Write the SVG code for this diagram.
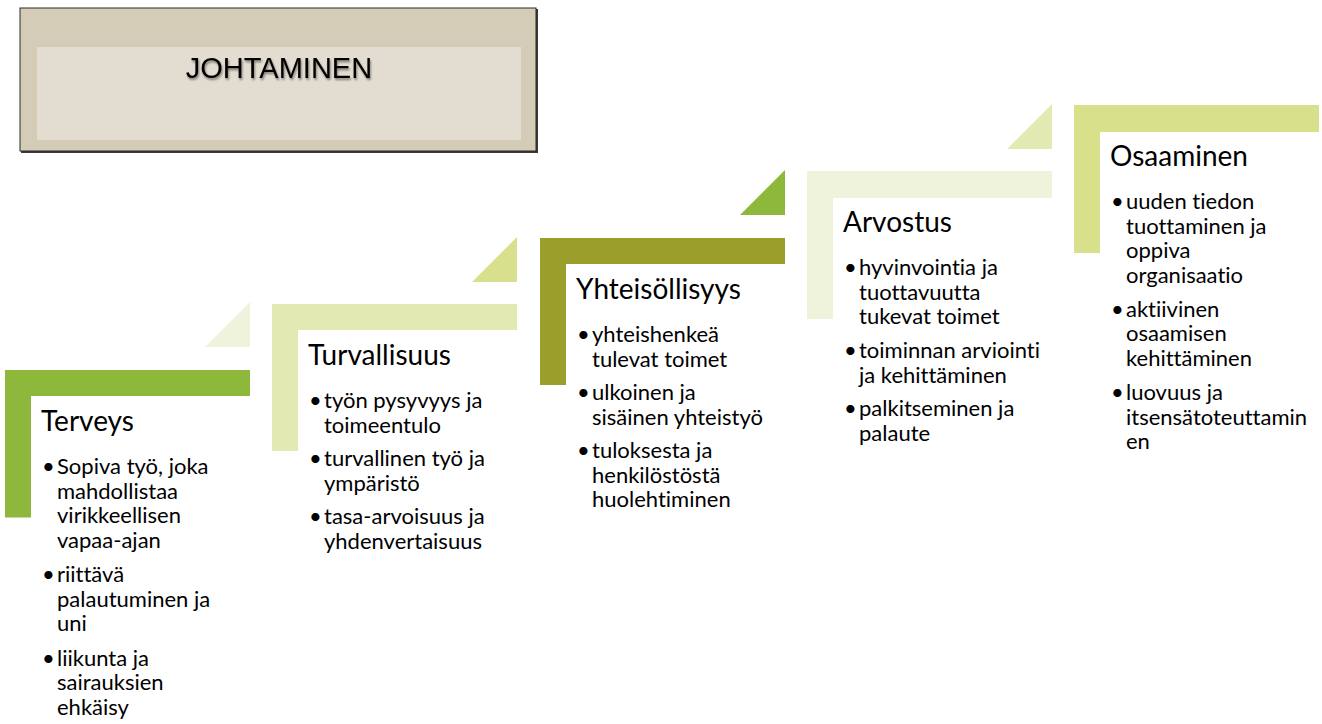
<svg xmlns="http://www.w3.org/2000/svg" width="1322" height="724" viewBox="0 0 1322 724">
<defs>
<style>
.t{font-family:Lato,"Noto Sans",sans-serif;fill:#000;font-variant-ligatures:none;font-feature-settings:"liga" 0,"clig" 0;}
.h{font-size:28px;}
.b{font-size:22px;}
.jt{font-family:"Liberation Sans",Arial,sans-serif;font-size:29px;fill:#000;}
</style>
<filter id="ts" x="-10%" y="-30%" width="120%" height="160%">
<feGaussianBlur in="SourceAlpha" stdDeviation="1.2"/>
<feOffset dx="1" dy="1.5" result="o"/>
<feComponentTransfer><feFuncA type="linear" slope="0.45"/></feComponentTransfer>
<feMerge><feMergeNode/><feMergeNode in="SourceGraphic"/></feMerge>
</filter>
</defs>
<rect width="1322" height="724" fill="#fff"/>

<g id="johtaminen">
<rect x="21" y="9" width="517" height="144" fill="#3a3a3a"/>
<rect x="20" y="8" width="516" height="143" fill="#D4CCB6" stroke="#2b2b2b" stroke-width="1"/>
<rect x="37" y="47" width="484" height="93" fill="#E3DDD1"/>
<text class="jt" x="279" y="78" text-anchor="middle" filter="url(#ts)">JOHTAMINEN</text>
</g>

<g id="terveys">
<path d="M5 370h245v26h-219v121.5h-26z" fill="#8DB83B"/>
<path d="M205 347L250 302V347z" fill="#F0F3DC"/>
<text class="t h" x="41" y="431">Terveys</text>
<g class="t b">
<text x="42" y="474">•</text>
<text x="57" y="474">Sopiva työ, joka</text>
<text x="57" y="498.5">mahdollistaa</text>
<text x="57" y="523">virikkeellisen</text>
<text x="57" y="547.5">vapaa-ajan</text>
<text x="42" y="582">•</text>
<text x="57" y="582">riittävä</text>
<text x="57" y="606.5">palautuminen ja</text>
<text x="57" y="631">uni</text>
<text x="42" y="665.5">•</text>
<text x="57" y="665.5">liikunta ja</text>
<text x="57" y="690">sairauksien</text>
<text x="57" y="714.5">ehkäisy</text>
</g>
</g>

<g id="turvallisuus">
<path d="M272 304h245v26h-219v121h-26z" fill="#E3E9B2"/>
<path d="M472 282L517 237V282z" fill="#D8E08E"/>
<text class="t h" x="308" y="365">Turvallisuus</text>
<g class="t b">
<text x="309" y="408">•</text>
<text x="324" y="408">työn pysyvyys ja</text>
<text x="324" y="432.5">toimeentulo</text>
<text x="309" y="466">•</text>
<text x="324" y="466">turvallinen työ ja</text>
<text x="324" y="490.5">ympäristö</text>
<text x="309" y="524">•</text>
<text x="324" y="524">tasa-arvoisuus ja</text>
<text x="324" y="548.5">yhdenvertaisuus</text>
</g>
</g>

<g id="yhteisollisyys">
<path d="M540 238h245v26h-219v121h-26z" fill="#9A9F2C"/>
<path d="M740 215L785 170V215z" fill="#8DB83B"/>
<text class="t h" x="576" y="299">Yhteisöllisyys</text>
<g class="t b">
<text x="577" y="342">•</text>
<text x="592" y="342">yhteishenkeä</text>
<text x="592" y="366.5">tulevat toimet</text>
<text x="577" y="400">•</text>
<text x="592" y="400">ulkoinen ja</text>
<text x="592" y="424.5">sisäinen yhteistyö</text>
<text x="577" y="458">•</text>
<text x="592" y="458">tuloksesta ja</text>
<text x="592" y="482.5">henkilöstöstä</text>
<text x="592" y="507">huolehtiminen</text>
</g>
</g>

<g id="arvostus">
<path d="M807 171h245v27h-219v121h-26z" fill="#F0F3DC"/>
<path d="M1007 149L1052 104V149z" fill="#E3E9B2"/>
<text class="t h" x="843" y="232">Arvostus</text>
<g class="t b">
<text x="844" y="275">•</text>
<text x="859" y="275">hyvinvointia ja</text>
<text x="859" y="299.5">tuottavuutta</text>
<text x="859" y="324">tukevat toimet</text>
<text x="844" y="358">•</text>
<text x="859" y="358">toiminnan arviointi</text>
<text x="859" y="382.5">ja kehittäminen</text>
<text x="844" y="416">•</text>
<text x="859" y="416">palkitseminen ja</text>
<text x="859" y="440.5">palaute</text>
</g>
</g>

<g id="osaaminen">
<path d="M1074 105h245v27h-219v121h-26z" fill="#D8E08C"/>
<text class="t h" x="1110" y="166">Osaaminen</text>
<g class="t b">
<text x="1111" y="209">•</text>
<text x="1126" y="209">uuden tiedon</text>
<text x="1126" y="233.5">tuottaminen ja</text>
<text x="1126" y="258">oppiva</text>
<text x="1126" y="282.5">organisaatio</text>
<text x="1111" y="316.5">•</text>
<text x="1126" y="316.5">aktiivinen</text>
<text x="1126" y="341">osaamisen</text>
<text x="1126" y="365.5">kehittäminen</text>
<text x="1111" y="400">•</text>
<text x="1126" y="400">luovuus ja</text>
<text x="1126" y="424.5">itsensätoteuttamin</text>
<text x="1126" y="449">en</text>
</g>
</g>
</svg>
